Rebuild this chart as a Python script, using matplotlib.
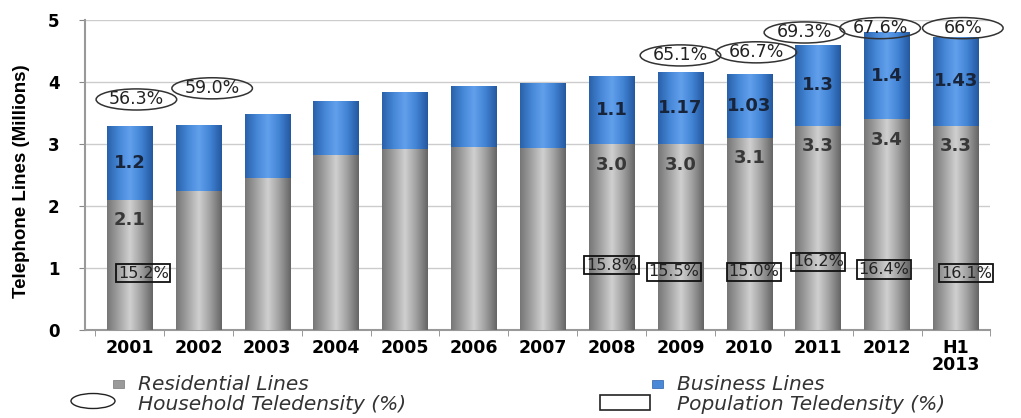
import numpy as np
import matplotlib
matplotlib.use('Agg')
import matplotlib.pyplot as plt
import matplotlib.patches as mpatches
from matplotlib.colors import LinearSegmentedColormap

plt.rcParams['font.family'] = ['DejaVu Sans']

#%% Data
years = ['2001', '2002', '2003', '2004', '2005', '2006', '2007',
         '2008', '2009', '2010', '2011', '2012', 'H1\n2013']
residential = [2.1, 2.24, 2.45, 2.82, 2.92, 2.95, 2.94, 3.0, 3.0, 3.1, 3.3, 3.4, 3.3]
business = [1.2, 1.07, 1.03, 0.87, 0.92, 0.99, 1.04, 1.1, 1.17, 1.03, 1.3, 1.4, 1.43]
# which bars carry value labels
resLabels = ['2.1', '', '', '', '', '', '', '3.0', '3.0', '3.1', '3.3', '3.4', '3.3']
busLabels = ['1.2', '', '', '', '', '', '', '1.1', '1.17', '1.03', '1.3', '1.4', '1.43']

# household teledensity (ellipses): bar index, text, x offset, y position
hhIdx = [0, 1, 8, 9, 10, 11, 12]
hhText = ['56.3%', '59.0%', '65.1%', '66.7%', '69.3%', '67.6%', '66%']
hhDx = [0.1, 0.2, 0.0, 0.1, -0.2, -0.1, 0.1]
hhY = [3.72, 3.9, 4.43, 4.48, 4.8, 4.87, 4.87]

# population teledensity (boxes)
popIdx = [0, 7, 8, 9, 10, 11, 12]
popText = ['15.2%', '15.8%', '15.5%', '15.0%', '16.2%', '16.4%', '16.1%']
popDx = [0.2, 0.0, -0.1, 0.07, 0.0, -0.05, 0.15]
popY = [0.92, 1.05, 0.94, 0.94, 1.1, 0.98, 0.92]

barWidth = 0.66
ellW, ellH = 1.17, 0.34   # household ellipse size in data units
grayCmap = LinearSegmentedColormap.from_list('cyl_gray', ['#777777', '#a2a2a2', '#d0d0d0', '#a0a0a0', '#666666'])
blueCmap = LinearSegmentedColormap.from_list('cyl_blue', ['#2a62aa', '#4586d6', '#62a0ec', '#4283d4', '#2459a0'])

#%% Plot
fig = plt.figure(figsize=(10.21, 4.18), dpi=100)
ax = fig.add_axes([0.083, 0.21, 0.887, 0.742])

x = np.arange(len(years))
bRes = ax.bar(x, residential, width=barWidth, color='#a0a0a0', zorder=2)
bBus = ax.bar(x, business, width=barWidth, bottom=residential, color='#4a88d8', zorder=2)

# cylinder-like shading clipped to each bar
grad = np.linspace(0, 1, 64).reshape(1, -1)
for patches, cmap in [(bRes, grayCmap), (bBus, blueCmap)]:
    for p in patches:
        x0, y0 = p.get_x(), p.get_y()
        im = ax.imshow(grad, cmap=cmap, aspect='auto', zorder=3,
                       extent=[x0, x0 + p.get_width(), y0, y0 + p.get_height()])
        im.set_clip_path(p)

for i in range(len(years)):
    if resLabels[i]:
        ax.text(x[i], residential[i] - 0.33, resLabels[i], ha='center', va='center',
                fontsize=13, fontweight='bold', color='#383838', zorder=5)
    if busLabels[i]:
        ax.text(x[i], residential[i] + business[i] / 2, busLabels[i], ha='center', va='center',
                fontsize=13, fontweight='bold', color='#18243a', zorder=5)

for i, t, dx, yy in zip(hhIdx, hhText, hhDx, hhY):
    ax.text(x[i] + dx, yy, t, ha='center', va='center', fontsize=12.5, color='#222222', zorder=6)
    ax.add_patch(mpatches.Ellipse((x[i] + dx, yy), ellW, ellH, fc='none', ec='#333333',
                                  lw=1.1, zorder=6, clip_on=False))

for i, t, dx, yy in zip(popIdx, popText, popDx, popY):
    ax.text(x[i] + dx, yy, t, ha='center', va='center', fontsize=11.5, color='#222222', zorder=6,
            bbox=dict(boxstyle='square,pad=0.1', fc='none', ec='#111111', lw=1.3))

ax.set_xlim(-0.65, 12.41)
ax.set_ylim(0, 5)
ax.set_yticks(range(6))
ax.set_yticklabels([str(v) for v in range(6)], fontsize=12, fontweight='bold')
ax.set_xticks(x)
ax.set_xticklabels(years, fontsize=12.5, fontweight='bold', linespacing=0.95)
ax.set_xticks(np.arange(-0.5, 12.6, 1), minor=True)
ax.tick_params(axis='x', which='major', length=0, pad=6)
ax.tick_params(axis='x', which='minor', length=4, color='#888888')
ax.tick_params(axis='y', length=4, color='#888888', pad=14)
ax.grid(axis='y', color='#cccccc', lw=1.0, zorder=0)
for s in ['top', 'right']:
    ax.spines[s].set_visible(False)
ax.spines['left'].set_color('#999999')
ax.spines['bottom'].set_color('#999999')
ax.spines['left'].set_linewidth(1.5)
ax.spines['bottom'].set_linewidth(1.5)
ax.set_ylabel('Telephone Lines (Millions)', fontsize=13.5, fontweight='bold',
              family=['Liberation Sans Narrow', 'Liberation Sans'], labelpad=8)
ax.yaxis.set_label_coords(-0.06, 0.48)

# legend drawn in pixel coordinates of the figure
W, H = 1021., 418.
def fx(px):
    return px / W
def fy(py):
    return 1 - py / H

legItal = dict(fontsize=14.5, style='italic', color='#333333', va='center', ha='left')
fig.add_artist(mpatches.Rectangle((fx(113), fy(388)), 11 / W, 8 / H, transform=fig.transFigure,
                                  fc='#9a9a9a', ec='#777777', lw=0.5))
fig.text(fx(138), fy(384), 'Residential Lines', **legItal)
fig.add_artist(mpatches.Ellipse((fx(93), fy(401)), 44 / W, 15 / H, transform=fig.transFigure,
                                fc='none', ec='#222222', lw=1.0))
fig.text(fx(138), fy(405), 'Household Teledensity (%)', **legItal)
fig.add_artist(mpatches.Rectangle((fx(652), fy(388)), 11 / W, 8 / H, transform=fig.transFigure,
                                  fc='#4a88d8', ec='#2a5fa8', lw=0.5))
fig.text(fx(677), fy(384), 'Business Lines', **legItal)
fig.add_artist(mpatches.Rectangle((fx(600), fy(410)), 50 / W, 15 / H, transform=fig.transFigure,
                                  fc='none', ec='#222222', lw=1.2))
fig.text(fx(677), fy(405), 'Population Teledensity (%)', **legItal)

fig.savefig('out.png', dpi=100)
